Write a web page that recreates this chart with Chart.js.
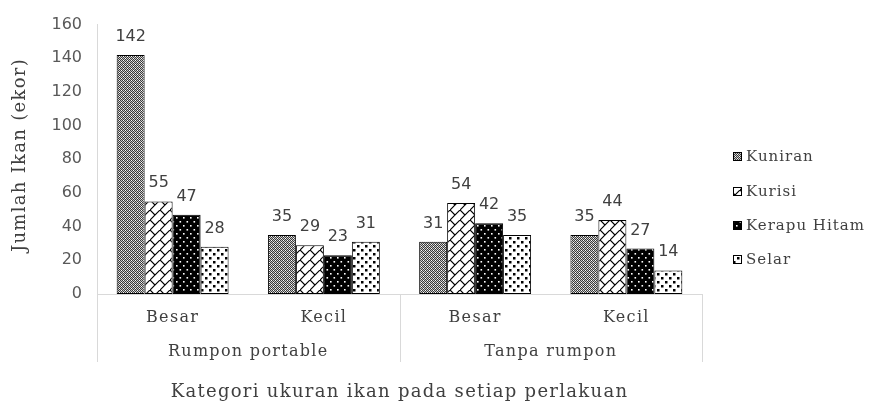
<!DOCTYPE html>
<html><head><meta charset="utf-8">
<script src="https://cdn.jsdelivr.net/npm/chart.js@4/dist/chart.umd.min.js"></script>
<style>html,body{margin:0;padding:0;background:#fff}#wrap{width:873px;height:410px;position:relative}</style>
</head><body><div id="wrap"><canvas id="c" width="873" height="410"></canvas></div>
<script>
const categories = ['Besar', 'Kecil', 'Besar', 'Kecil'];
const groups = ['Rumpon portable', 'Tanpa rumpon'];
const seriesNames = ['Kuniran', 'Kurisi', 'Kerapu Hitam', 'Selar'];
const kuniran = [142, 35, 31, 35];
const kurisi = [55, 29, 54, 44];
const kerapuHitam = [47, 23, 42, 27];
const selar = [28, 31, 35, 14];
const yMin = 0, yMax = 160, yStep = 20;
const xTitle = 'Kategori ukuran ikan pada setiap perlakuan';
const yTitle = 'Jumlah Ikan (ekor)';

function tile(w, h, draw) {
  const c = document.createElement('canvas');
  c.width = w; c.height = h;
  const g = c.getContext('2d');
  draw(g);
  return document.getElementById('c').getContext('2d').createPattern(c, 'repeat');
}
const patKuniran = tile(4, 4, g => {
  for (let yy = 0; yy < 4; yy++) for (let xx = 0; xx < 4; xx++) {
    g.fillStyle = ((xx + yy) % 2 === 0) ? '#3a3a3a' : '#c8c8c8';
    g.fillRect(xx, yy, 1, 1);
  }
  g.fillStyle = '#ffffff'; g.fillRect(1, 2, 1, 1); g.fillRect(3, 0, 1, 1);
});
const patKurisi = tile(10, 10, g => {
  g.fillStyle = '#fff'; g.fillRect(0, 0, 10, 10);
  g.strokeStyle = '#000'; g.lineWidth = 1.2;
  g.beginPath();
  g.moveTo(-1, 11); g.lineTo(11, -1);
  g.moveTo(0, 0); g.lineTo(5, 5);
  g.stroke();
});
const patKerapu = tile(7, 8, g => {
  g.fillStyle = '#000'; g.fillRect(0, 0, 7, 8);
  g.fillStyle = '#fff';
  g.fillRect(1, 1, 1.6, 1.6);
  g.fillRect(4.5, 5, 1.6, 1.6);
});
const patSelar = tile(8, 8, g => {
  g.fillStyle = '#fff'; g.fillRect(0, 0, 8, 8);
  g.fillStyle = '#000';
  g.fillRect(1, 1, 2.5, 2.5);
  g.fillRect(5, 5, 2.5, 2.5);
});
const patterns = [patKuniran, patKurisi, patKerapu, patSelar];
const seriesData = [kuniran, kurisi, kerapuHitam, selar];

const SANS = 'DejaVu Sans';
const SERIF = 'DejaVu Serif';

const extras = {
  id: 'extras',
  afterDatasetsDraw(chart) {
    const ctx = chart.ctx;
    const x = chart.scales.x;
    const area = chart.chartArea;
    ctx.save();
    // data labels
    ctx.font = '16px "' + SANS + '"';
    ctx.fillStyle = '#404040';
    ctx.textAlign = 'center';
    ctx.textBaseline = 'alphabetic';
    chart.data.datasets.forEach((ds, i) => {
      chart.getDatasetMeta(i).data.forEach((el, j) => {
        ctx.fillText(String(ds.data[j]), el.x, el.y - 14);
      });
    });
    // separators
    ctx.strokeStyle = '#d9d9d9';
    ctx.lineWidth = 1;
    const sepBottom = 362;
    const mid = (x.getPixelForValue(1) + x.getPixelForValue(2)) / 2;
    [area.left, mid, area.right].forEach(px => {
      const xx = Math.round(px) + 0.5;
      ctx.beginPath(); ctx.moveTo(xx, area.bottom); ctx.lineTo(xx, sepBottom); ctx.stroke();
    });
    ctx.letterSpacing = '1.3px';
    // category labels
    ctx.font = '16px "' + SERIF + '"';
    ctx.fillStyle = '#404040';
    ctx.textBaseline = 'middle';
    categories.forEach((c, i) => ctx.fillText(c, x.getPixelForValue(i), 318));
    // group labels
    const g1 = (x.getPixelForValue(0) + x.getPixelForValue(1)) / 2;
    const g2 = (x.getPixelForValue(2) + x.getPixelForValue(3)) / 2;
    ctx.fillText(groups[0], g1, 352);
    ctx.fillText(groups[1], g2, 352);
    // axis titles
    ctx.font = '18px "' + SERIF + '"';
    ctx.fillText(xTitle, (area.left + area.right) / 2, 392);
    ctx.save();
    ctx.translate(20, 155);
    ctx.rotate(-Math.PI / 2);
    ctx.fillText(yTitle, 0, 0);
    ctx.restore();
    // legend
    ctx.font = '15px "' + SERIF + '"';
    ctx.letterSpacing = '1px';
    const ly = [157, 192, 226, 260];
    ctx.textAlign = 'left';
    seriesNames.forEach((n, i) => {
      ctx.fillStyle = patterns[i];
      ctx.fillRect(733, ly[i] - 5, 9, 9);
      ctx.strokeStyle = '#000';
      ctx.strokeRect(733.5, ly[i] - 4.5, 8, 8);
      ctx.fillStyle = '#404040';
      ctx.fillText(n, 746, ly[i]);
    });
    ctx.restore();
  }
};

new Chart(document.getElementById('c'), {
  type: 'bar',
  data: {
    labels: categories,
    datasets: seriesNames.map((n, i) => ({
      label: n,
      data: seriesData[i],
      backgroundColor: patterns[i],
      borderColor: '#000',
      borderWidth: 1,
      borderSkipped: false,
      categoryPercentage: 0.74,
      barPercentage: 1.0
    }))
  },
  options: {
    responsive: false,
    devicePixelRatio: 1,
    animation: false,
    layout: { padding: { top: 18, right: 171, left: 0, bottom: 0 } },
    plugins: { legend: { display: false }, tooltip: { enabled: false } },
    scales: {
      y: {
        min: yMin, max: yMax,
        ticks: { stepSize: yStep, font: { family: SANS, size: 16 }, color: '#595959', padding: 15 },
        grid: { display: false, drawTicks: false },
        border: { display: true, color: '#d9d9d9' },
        afterFit(s) { s.width = 97; }
      },
      x: {
        ticks: { display: false },
        grid: { display: false, drawTicks: false },
        border: { display: true, color: '#d9d9d9' },
        afterFit(s) { s.height = 116; }
      }
    }
  },
  plugins: [extras]
});
</script>
</body></html>
